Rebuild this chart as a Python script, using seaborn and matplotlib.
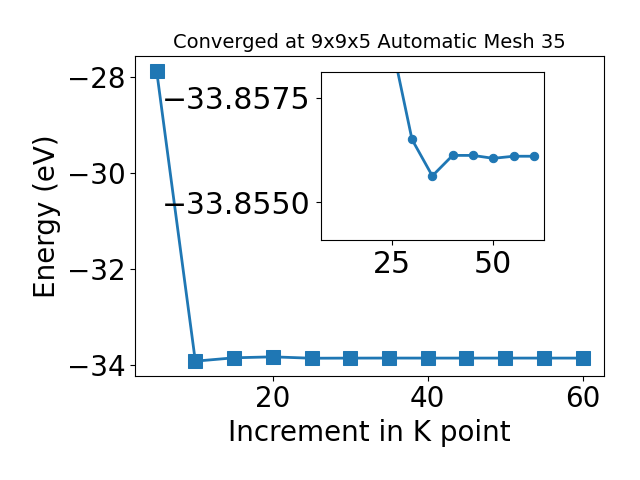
import matplotlib
matplotlib.use("Agg")
import matplotlib.pyplot as plt
import seaborn as sns

# k-point increments and total energies (eV)
kpoints = [5, 10, 15, 20, 25, 30, 35, 40, 45, 50, 55, 60]
energies = [-27.87, -33.92, -33.85, -33.83, -33.8588, -33.8565,
            -33.85563, -33.85612, -33.85612, -33.85605, -33.8561, -33.8561]

# zoomed view of the converged part
inset_k = kpoints[4:]
inset_e = energies[4:]

fig = plt.figure(figsize=(6.4, 4.8), dpi=100)
ax = fig.add_axes([0.2114, 0.2173, 0.7323, 0.666])
sns.lineplot(x=kpoints, y=energies, marker="s", markersize=10,
             linewidth=2, color="#1f77b4", markeredgecolor="#1f77b4", ax=ax)
ax.set_xlabel("Increment in K point", fontsize=20)
ax.set_ylabel("Energy (eV)", fontsize=20)
ax.set_title("Converged at 9x9x5 Automatic Mesh 35", fontsize=14)
ax.tick_params(labelsize=20)

# inset zoom on the converged region
axins = fig.add_axes([0.501, 0.5, 0.349, 0.349])
sns.lineplot(x=inset_k, y=inset_e, marker="o", markersize=6,
             linewidth=2, color="#1f77b4", markeredgecolor="#1f77b4", ax=axins)
axins.set_xlim(7.5, 62.5)
axins.set_ylim(-33.8541, -33.8581)
axins.set_yticks([-33.8575, -33.8550])
axins.set_xticks([25, 50])
axins.ticklabel_format(axis="y", useOffset=False)
axins.tick_params(labelsize=21.5)

fig.savefig("out.png", dpi=100)
